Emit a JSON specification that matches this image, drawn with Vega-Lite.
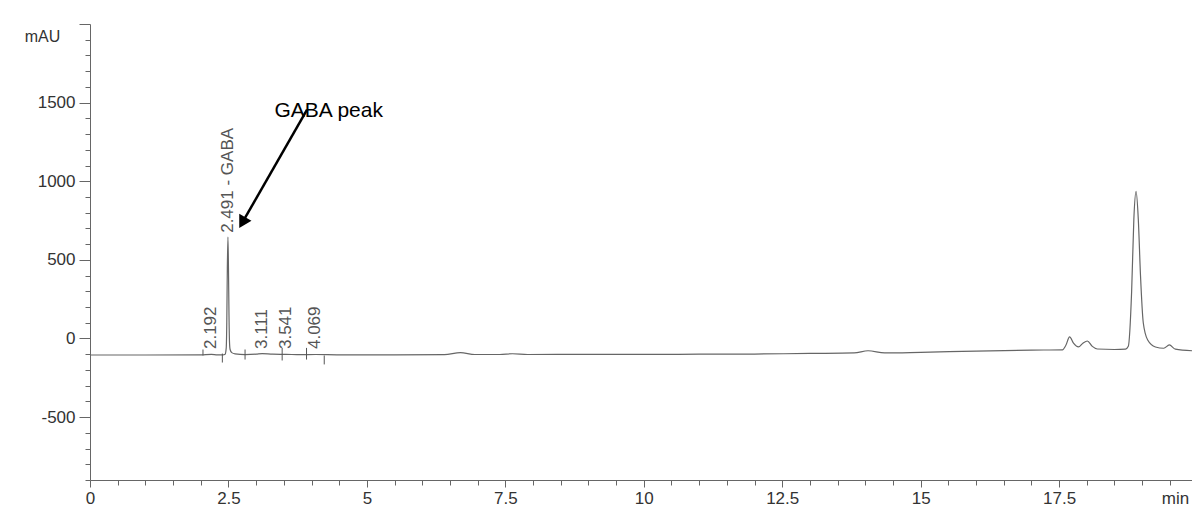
{
  "$schema": "https://vega.github.io/schema/vega-lite/v6.json",
  "autosize": {"type": "none"},
  "padding": {"left": 90, "top": 24, "right": 0, "bottom": 28},
  "width": 1102,
  "height": 456,
  "background": "white",
  "config": {"view": {"stroke": null}, "font": "Liberation Sans"},
  "datasets": {
    "signal": [
      {"t": 0, "v": -105}, {"t": 1.0, "v": -105}, {"t": 2.0, "v": -104}, {"t": 2.192, "v": -101},
      {"t": 2.3, "v": -104}, {"t": 2.4, "v": -104}, {"t": 2.44, "v": -100}, {"t": 2.46, "v": -60},
      {"t": 2.47, "v": 100}, {"t": 2.48, "v": 450}, {"t": 2.491, "v": 645}, {"t": 2.5, "v": 460},
      {"t": 2.51, "v": 150}, {"t": 2.52, "v": -30}, {"t": 2.53, "v": -70}, {"t": 2.56, "v": -90},
      {"t": 2.62, "v": -98}, {"t": 2.8, "v": -103}, {"t": 3.0, "v": -100}, {"t": 3.11, "v": -96},
      {"t": 3.3, "v": -100}, {"t": 3.54, "v": -101}, {"t": 3.8, "v": -103}, {"t": 4.07, "v": -102},
      {"t": 4.5, "v": -104}, {"t": 5.5, "v": -104}, {"t": 6.4, "v": -103}, {"t": 6.69, "v": -90},
      {"t": 6.95, "v": -102}, {"t": 7.4, "v": -102}, {"t": 7.63, "v": -97}, {"t": 7.9, "v": -102},
      {"t": 9.0, "v": -101}, {"t": 10.0, "v": -101}, {"t": 11.0, "v": -100}, {"t": 12.0, "v": -99},
      {"t": 13.0, "v": -95}, {"t": 13.8, "v": -92}, {"t": 14.05, "v": -78}, {"t": 14.35, "v": -92},
      {"t": 15.0, "v": -88}, {"t": 16.0, "v": -80}, {"t": 17.0, "v": -74}, {"t": 17.56, "v": -72},
      {"t": 17.62, "v": -45}, {"t": 17.69, "v": 10}, {"t": 17.76, "v": -30}, {"t": 17.85, "v": -54},
      {"t": 17.93, "v": -30}, {"t": 18.01, "v": -16}, {"t": 18.1, "v": -50}, {"t": 18.19, "v": -67},
      {"t": 18.5, "v": -70}, {"t": 18.7, "v": -68}, {"t": 18.75, "v": -50}, {"t": 18.81, "v": 300},
      {"t": 18.85, "v": 760}, {"t": 18.89, "v": 935}, {"t": 18.93, "v": 760}, {"t": 18.97, "v": 400},
      {"t": 19.02, "v": 100}, {"t": 19.1, "v": -10}, {"t": 19.24, "v": -54}, {"t": 19.39, "v": -62},
      {"t": 19.49, "v": -41}, {"t": 19.6, "v": -68}, {"t": 19.9, "v": -78}
    ],
    "labels": [
      {"t": 2.192, "v": -67, "label": "2.192"},
      {"t": 2.491, "v": 672, "label": "2.491 - GABA"},
      {"t": 3.111, "v": -67, "label": "3.111"},
      {"t": 3.541, "v": -67, "label": "3.541"},
      {"t": 4.069, "v": -67, "label": "4.069"}
    ],
    "markers": [
      {"t": 2.04, "y1": -108, "y2": -70},
      {"t": 2.39, "y1": -96, "y2": -153},
      {"t": 2.8, "y1": -70, "y2": -134},
      {"t": 3.47, "y1": -60, "y2": -140},
      {"t": 3.91, "y1": -60, "y2": -134},
      {"t": 4.23, "y1": -108, "y2": -165}
    ],
    "arrow": [{"t": 3.92, "v": 1455, "t2": 2.75, "v2": 737}],
    "annotation": [{"t": 3.33, "v": 1411, "text": "GABA peak"}]
  },
  "layer": [
    {
      "data": {"name": "signal"},
      "mark": {"type": "line", "color": "#666666", "strokeWidth": 1.2, "interpolate": "monotone"},
      "encoding": {
        "x": {
          "field": "t", "type": "quantitative",
          "scale": {"domain": [0, 19.9], "nice": false, "zero": false},
          "axis": {
            "values": [0,0.5,1,1.5,2,2.5,3,3.5,4,4.5,5,5.5,6,6.5,7,7.5,8,8.5,9,9.5,10,10.5,11,11.5,12,12.5,13,13.5,14,14.5,15,15.5,16,16.5,17,17.5,18,18.5,19,19.5],
            "tickCount": 200,
            "labelOverlap": false,
            "labelExpr": "datum.value % 2.5 == 0 ? '' + datum.value : ''",
            "tickSize": {"condition": {"test": "datum.value % 2.5 == 0", "value": 7}, "value": 5},
            "tickColor": "#666666", "domainColor": "#666666",
            "labelColor": "#333333", "labelFontSize": 17, "labelPadding": 3,
            "labelFont": "Liberation Sans", "labelFlush": false,
            "grid": false,
            "title": "min", "titleFontSize": 17, "titleFontWeight": "normal", "titleColor": "#333333",
            "titleFont": "Liberation Sans",
            "titleX": 1085, "titleY": 18, "titleAlign": "center", "titleBaseline": "middle"
          }
        },
        "y": {
          "field": "v", "type": "quantitative",
          "scale": {"domain": [-900, 2000], "nice": false, "zero": false},
          "axis": {
            "values": [-900,-800,-700,-600,-500,-400,-300,-200,-100,0,100,200,300,400,500,600,700,800,900,1000,1100,1200,1300,1400,1500,1600,1700,1800,1900,2000],
            "tickCount": 200,
            "labelOverlap": false,
            "labelExpr": "(datum.value % 500 == 0 && datum.value < 2000) ? '' + datum.value : ''",
            "tickSize": {"condition": {"test": "datum.value % 500 == 0", "value": 11}, "value": 5},
            "tickColor": "#666666", "domainColor": "#666666",
            "labelColor": "#333333", "labelFontSize": 17, "labelPadding": 4,
            "labelFont": "Liberation Sans", "labelFlush": false,
            "grid": false,
            "title": "mAU", "titleAngle": 0, "titleFontSize": 16, "titleFontWeight": "normal",
            "titleColor": "#333333", "titleFont": "Liberation Sans",
            "titleX": -48, "titleY": 12, "titleAlign": "center", "titleBaseline": "middle"
          }
        }
      }
    },
    {
      "data": {"name": "markers"},
      "mark": {"type": "rule", "color": "#555555", "strokeWidth": 1},
      "encoding": {
        "x": {"field": "t", "type": "quantitative"},
        "y": {"field": "y1", "type": "quantitative"},
        "y2": {"field": "y2"}
      }
    },
    {
      "data": {"name": "labels"},
      "mark": {"type": "text", "angle": 270, "align": "left", "baseline": "middle", "fontSize": 17, "color": "#555555", "font": "Liberation Sans"},
      "encoding": {
        "x": {"field": "t", "type": "quantitative"},
        "y": {"field": "v", "type": "quantitative"},
        "text": {"field": "label"}
      }
    },
    {
      "data": {"name": "arrow"},
      "mark": {"type": "rule", "color": "black", "strokeWidth": 2.5},
      "encoding": {
        "x": {"field": "t", "type": "quantitative"},
        "y": {"field": "v", "type": "quantitative"},
        "x2": {"field": "t2"},
        "y2": {"field": "v2"}
      }
    },
    {
      "data": {"name": "arrow"},
      "mark": {"type": "point", "shape": "triangle-up", "angle": 210, "filled": true, "color": "black", "size": 200, "opacity": 1},
      "encoding": {
        "x": {"field": "t2", "type": "quantitative"},
        "y": {"field": "v2", "type": "quantitative"}
      }
    },
    {
      "data": {"name": "annotation"},
      "mark": {"type": "text", "align": "left", "baseline": "alphabetic", "fontSize": 21, "color": "black", "font": "Liberation Sans"},
      "encoding": {
        "x": {"field": "t", "type": "quantitative"},
        "y": {"field": "v", "type": "quantitative"},
        "text": {"field": "text"}
      }
    }
  ]
}
